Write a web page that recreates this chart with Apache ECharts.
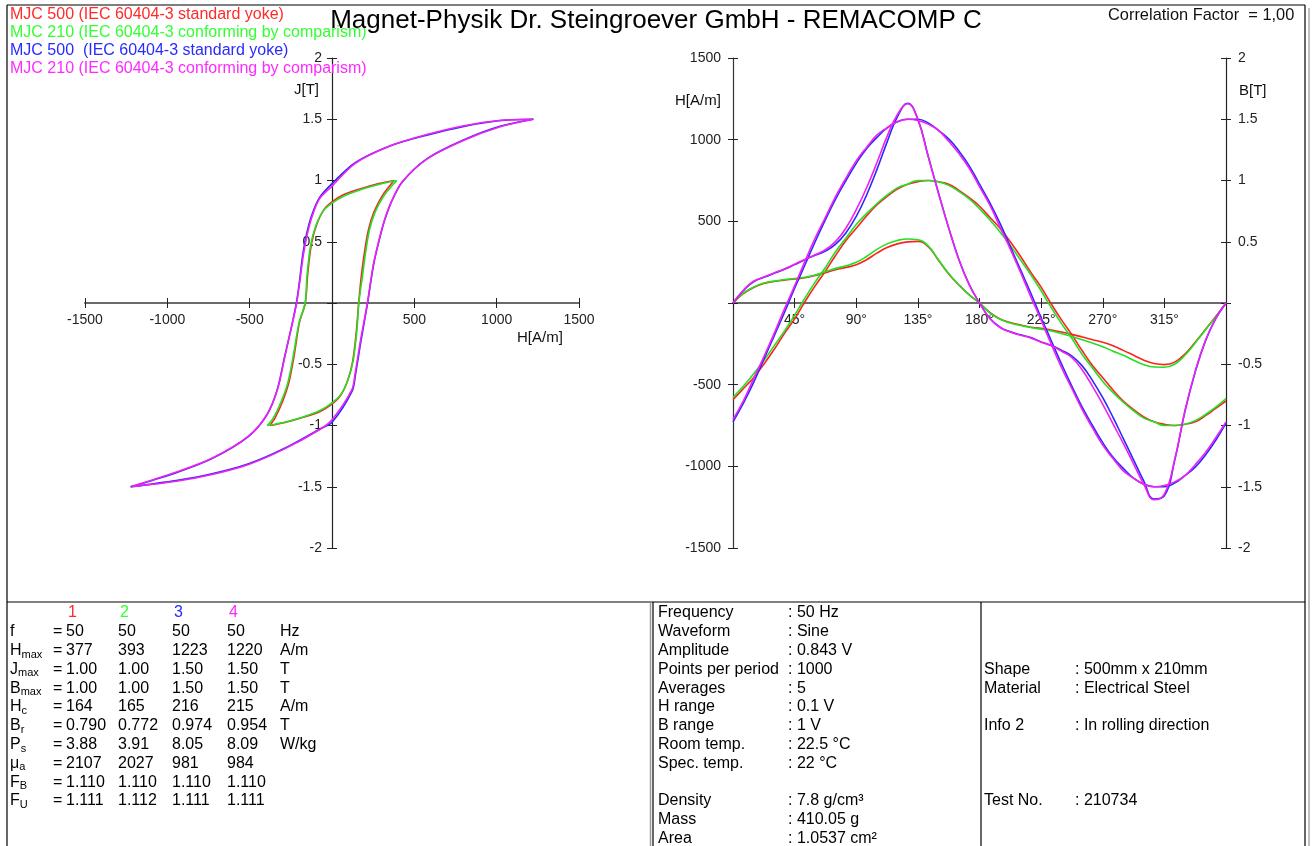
<!DOCTYPE html>
<html><head><meta charset="utf-8">
<script src="https://cdn.jsdelivr.net/npm/echarts@6/dist/echarts.min.js"></script>
<style>html,body{margin:0;padding:0;background:#fff}#c{width:1313px;height:846px}</style>
</head><body><div id="c"></div>
<script>
const FONT = '"Liberation Sans", Arial, Helvetica, sans-serif';

// ---------- series meta ----------
const seriesNames = [
  'MJC 500 (IEC 60404-3 standard yoke)',
  'MJC 210 (IEC 60404-3 conforming by comparism)',
  'MJC 500  (IEC 60404-3 standard yoke)',
  'MJC 210 (IEC 60404-3 conforming by comparism)'
];
const lineColors = ['#ff2020', '#22e022', '#2a2aff', '#f020f0'];
const textColors = ['#ff2a2a', '#33ff33', '#2a2aff', '#ff2aff'];

// ---------- hysteresis loops [H A/m, J T] ----------
const loop1Desc = [[377,1.0],[285,0.975],[180,0.935],[72,0.885],[0,0.825],[-50,0.76],[-93,0.64],[-125,0.48],[-148,0.23],[-162,0],[-198,-0.16],[-230,-0.43],[-262,-0.65],[-302,-0.81],[-345,-0.935],[-377,-1.0]];
const loop1Asc  = [[-377,-1.0],[-285,-0.975],[-178,-0.935],[-72,-0.885],[0,-0.825],[50,-0.76],[93,-0.64],[125,-0.48],[148,-0.23],[162,0],[178,0.22],[200,0.44],[222,0.60],[254,0.74],[305,0.875],[377,1.0]];
const loop2Desc = [[393,1.0],[294,0.972],[185,0.93],[76,0.875],[0,0.815],[-54,0.75],[-98,0.63],[-130,0.47],[-152,0.22],[-163,0],[-200,-0.16],[-235,-0.43],[-268,-0.65],[-310,-0.81],[-355,-0.935],[-393,-1.0]];
const loop2Asc  = [[-393,-1.0],[-294,-0.975],[-185,-0.935],[-76,-0.88],[0,-0.815],[54,-0.747],[98,-0.624],[130,-0.46],[152,-0.21],[163,0],[185,0.22],[207,0.44],[228,0.60],[261,0.74],[315,0.875],[393,1.0]];
const loop3Desc = [[1223,1.50],[1012,1.488],[794,1.44],[576,1.37],[359,1.285],[141,1.145],[0,0.974],[-76,0.86],[-122,0.72],[-155,0.56],[-178,0.39],[-198,0.17],[-216,0],[-242,-0.17],[-288,-0.44],[-333,-0.71],[-398,-0.92],[-508,-1.09],[-729,-1.27],[-946,-1.385],[-1223,-1.50]];
const loop3Asc  = [[-1223,-1.50],[-946,-1.45],[-729,-1.395],[-511,-1.315],[-294,-1.19],[-76,-1.03],[0,-0.974],[122,-0.72],[143,-0.58],[176,-0.31],[216,0],[252,0.31],[286,0.51],[318,0.67],[362,0.83],[428,0.99],[580,1.18],[798,1.33],[1015,1.44],[1223,1.50]];
const loop4Desc = [[1220,1.50],[1012,1.49],[794,1.445],[576,1.375],[359,1.285],[141,1.14],[0,0.954],[-76,0.85],[-120,0.71],[-152,0.55],[-174,0.39],[-196,0.17],[-215,0],[-240,-0.16],[-285,-0.43],[-330,-0.70],[-395,-0.91],[-505,-1.085],[-725,-1.265],[-945,-1.38],[-1220,-1.50]];
const loop4Asc  = [[-1220,-1.50],[-946,-1.455],[-729,-1.40],[-511,-1.32],[-294,-1.195],[-76,-1.035],[0,-0.954],[120,-0.71],[141,-0.57],[174,-0.30],[215,0],[250,0.305],[283,0.50],[315,0.66],[359,0.82],[424,0.985],[576,1.175],[794,1.325],[1012,1.435],[1220,1.50]];

// ---------- waveforms over one period ----------
const angles = [0,7.5,15,22.5,30,37.5,45,52.5,60,67.5,75,82.5,90,97.5,105,112.5,120,127.5,135,142.5,150,157.5,165,172.5,180,187.5,195,202.5,210,217.5,225,232.5,240,247.5,255,262.5,270,277.5,285,292.5,300,307.5,315,322.5,330,337.5,345,352.5,360];
const H1 = [0,57,95,120,132,140,147,155,168,186,204,218,234,265,305,340,362,374,377,345,262,178,110,50,0,-58,-98,-120,-135,-148,-155,-165,-178,-192,-208,-225,-240,-262,-290,-320,-350,-370,-377,-362,-312,-240,-162,-83,0];
const H2 = [0,60,97,122,134,143,150,158,172,192,212,228,249,285,328,362,383,392,387,350,265,180,110,50,0,-60,-100,-122,-137,-150,-160,-172,-188,-205,-225,-245,-268,-295,-320,-350,-378,-392,-393,-375,-320,-245,-165,-85,0];
const H3 = [0,75,130,157,182,206,235,265,292,318,360,430,530,660,815,985,1140,1223,1125,900,675,460,265,112,0,-93,-148,-176,-195,-212,-238,-260,-290,-325,-385,-475,-580,-700,-830,-960,-1090,-1200,-1180,-965,-665,-422,-232,-96,0];
const H4 = [0,78,133,159,184,208,237,267,296,326,377,459,571,704,857,1020,1153,1220,1122,898,673,459,265,112,0,-95,-150,-178,-197,-214,-240,-262,-295,-335,-410,-510,-620,-740,-860,-985,-1110,-1205,-1170,-960,-660,-420,-230,-95,0];
const B1 = [-0.79,-0.70,-0.61,-0.50,-0.38,-0.25,-0.13,0.01,0.14,0.26,0.39,0.51,0.61,0.71,0.80,0.87,0.93,0.97,0.99,1.00,0.99,0.97,0.92,0.86,0.79,0.70,0.61,0.50,0.38,0.25,0.13,-0.01,-0.14,-0.26,-0.39,-0.51,-0.61,-0.71,-0.80,-0.87,-0.93,-0.97,-0.99,-1.00,-0.99,-0.97,-0.92,-0.86,-0.80];
const B2 = [-0.77,-0.68,-0.58,-0.47,-0.35,-0.23,-0.10,0.04,0.17,0.29,0.42,0.53,0.64,0.73,0.81,0.88,0.94,0.97,1.00,1.00,0.99,0.96,0.91,0.85,0.77,0.68,0.58,0.47,0.35,0.23,0.10,-0.04,-0.17,-0.29,-0.42,-0.53,-0.64,-0.73,-0.81,-0.88,-0.94,-0.97,-1.00,-1.00,-0.99,-0.96,-0.91,-0.85,-0.78];
const B3 = [-0.97,-0.82,-0.65,-0.46,-0.27,-0.08,0.12,0.31,0.50,0.68,0.85,1.00,1.14,1.26,1.35,1.43,1.48,1.50,1.50,1.47,1.41,1.34,1.24,1.12,0.97,0.82,0.65,0.46,0.27,0.08,-0.12,-0.31,-0.50,-0.68,-0.85,-1.00,-1.14,-1.26,-1.35,-1.43,-1.48,-1.50,-1.50,-1.47,-1.41,-1.34,-1.24,-1.12,-0.98];
const B4 = [-0.95,-0.80,-0.62,-0.44,-0.25,-0.05,0.14,0.34,0.53,0.70,0.87,1.02,1.16,1.27,1.37,1.43,1.48,1.50,1.49,1.46,1.41,1.32,1.22,1.10,0.95,0.80,0.62,0.44,0.25,0.05,-0.14,-0.34,-0.53,-0.70,-0.87,-1.02,-1.16,-1.27,-1.37,-1.43,-1.48,-1.50,-1.49,-1.46,-1.41,-1.32,-1.22,-1.10,-0.97];

// ---------- tick settings ----------
const hRange = [-1500, 1500, 500];
const jRange = [-2, 2, 0.5];
const angRange = [0, 360, 45];

// ---------- table texts ----------
const colHeads = ['1','2','3','4'];
const rowLabels = [['f',''],['H','max'],['J','max'],['B','max'],['H','c'],['B','r'],['P','s'],['\u03bc','a'],['F','B'],['F','U']];
const rowValues = [
  ['50','50','50','50','Hz'],
  ['377','393','1223','1220','A/m'],
  ['1.00','1.00','1.50','1.50','T'],
  ['1.00','1.00','1.50','1.50','T'],
  ['164','165','216','215','A/m'],
  ['0.790','0.772','0.974','0.954','T'],
  ['3.88','3.91','8.05','8.09','W/kg'],
  ['2107','2027','981','984',''],
  ['1.110','1.110','1.110','1.110',''],
  ['1.111','1.112','1.111','1.111','']
];
const midLabels = ['Frequency','Waveform','Amplitude','Points per period','Averages','H range','B range','Room temp.','Spec. temp.','','Density','Mass','Area'];
const midValues = [': 50 Hz',': Sine',': 0.843 V',': 1000',': 5',': 0.1 V',': 1 V',': 22.5 \u00b0C',': 22 \u00b0C','',': 7.8 g/cm\u00b3',': 410.05 g',': 1.0537 cm\u00b2'];
const rightLabels = [['Shape',': 500mm x 210mm',3],['Material',': Electrical Steel',4],['Info 2',': In rolling direction',6],['Test No.',': 210734',10]];

// ================= build =================
const chart = echarts.init(document.getElementById('c'), null, {width:1313, height:846});
const G0 = {left:85, top:58, width:494, height:490};
const G1 = {left:733, top:58, width:493, height:490};

function txt(x, y, s, size, color, align, extra) {
  return Object.assign({type:'text', x:x, y:y, silent:true, z:100,
    style:{text:s, font:size+'px '+FONT, fill:color||'#000', textAlign:align||'left', align:align||'left', textVerticalAlign:'middle', verticalAlign:'middle'}}, extra||{});
}
function ln(x1,y1,x2,y2,color,w) {
  return {type:'line', silent:true, z:100, shape:{x1:x1,y1:y1,x2:x2,y2:y2}, style:{stroke:color, lineWidth:w}};
}
const meas = document.createElement('canvas').getContext('2d');
function tw(s, size) { meas.font = size+'px '+FONT; return meas.measureText(s).width; }

const graphics = [];
// frame
graphics.push(ln(7,5,1305,5,'#000',1.2));
graphics.push(ln(7,5,7,846,'#000',1.2));
graphics.push(ln(1305,5,1305,846,'#000',1.2));
graphics.push(ln(1309,8,1309,846,'#aaa',1.5));
graphics.push(ln(7,602,1305,602,'#000',1.2));
graphics.push(ln(650.5,602,650.5,846,'#999',1.5));
graphics.push(ln(653,602,653,846,'#000',1.2));
graphics.push(ln(981,602,981,846,'#000',1.2));
// header texts
seriesNames.forEach((n,i)=>graphics.push(txt(10, 15+i*17.7, n, 16, textColors[i])));
graphics.push(txt(656, 21, 'Magnet-Physik Dr. Steingroever GmbH - REMACOMP C', 26, '#000', 'center'));
graphics.push(txt(1108, 15, 'Correlation Factor  = 1,00', 16.4, '#111'));
// axis names
graphics.push(txt(294, 90, 'J[T]', 15, '#111'));
graphics.push(txt(517, 338, 'H[A/m]', 15, '#111'));
graphics.push(txt(675, 101, 'H[A/m]', 15, '#111'));
graphics.push(txt(1239, 91, 'B[T]', 15, '#111'));
// table left
const rowY0 = 613, rowDy = 18.8, FS = 16;
const colX = [66, 118, 172, 227, 280];
colHeads.forEach((h,i)=>graphics.push(txt(colX[i]+2, rowY0, h, FS, textColors[i])));
rowLabels.forEach((lab,r)=>{
  const y = rowY0 + (r+1)*rowDy;
  graphics.push(txt(10, y, lab[0], FS, '#000'));
  if (lab[1]) graphics.push(txt(10 + tw(lab[0], FS), y+4, lab[1], 11, '#000'));
  graphics.push(txt(53, y, '=', FS, '#000'));
  rowValues[r].forEach((v,c)=>{ if (v) graphics.push(txt(colX[c], y, v, FS, '#000')); });
});
// table middle
midLabels.forEach((l,r)=>{
  const y = rowY0 + r*rowDy;
  if (l) graphics.push(txt(658, y, l, FS, '#000'));
  if (midValues[r]) graphics.push(txt(788, y, midValues[r], FS, '#000'));
});
// table right
rightLabels.forEach(item=>{
  const y = rowY0 + item[2]*rowDy;
  graphics.push(txt(984, y, item[0], FS, '#000'));
  graphics.push(txt(1075, y, item[1], FS, '#000'));
});

// ---------- axes ----------
const labelStyle = {color:'#222', fontSize:14, fontFamily:FONT};
const hideZero = v => (v === 0 ? '' : String(v));
function mainAxis(grid, range, pos, offset, fmt, lineColor, lineW, margin) {
  return {gridIndex:grid, type:'value', position:pos, offset:offset, min:range[0], max:range[1], interval:range[2],
    axisLine:{show:true, onZero:false, lineStyle:{color:lineColor, width:lineW}},
    axisTick:{show:true, length:5, lineStyle:{color:'#222', width:1}},
    axisLabel:Object.assign({formatter:fmt, margin:margin}, labelStyle),
    splitLine:{show:false}};
}
function helperAxis(grid, range, pos, offset) {
  return {gridIndex:grid, type:'value', position:pos, offset:offset, min:range[0], max:range[1], interval:range[2],
    axisLine:{show:false, onZero:false},
    axisTick:{show:true, inside:true, length:5, lineStyle:{color:'#222', width:1}},
    axisLabel:{show:false}, splitLine:{show:false}};
}
const xMid0 = -G0.height/2, yMid0 = -G0.width/2, xMid1 = -G1.height/2;
const xAxes = [
  mainAxis(0, hRange, 'bottom', xMid0, hideZero, '#6a6a6a', 2, 10),
  mainAxis(1, angRange, 'bottom', xMid1, v => (v === 0 || v === 360) ? '' : v + '\u00b0', '#6a6a6a', 2, 10),
  helperAxis(2, hRange, 'bottom', xMid0),
  helperAxis(3, angRange, 'bottom', xMid1)
];
const yAxes = [
  mainAxis(0, jRange, 'left', yMid0, hideZero, '#222', 1.2, 10),
  mainAxis(1, hRange, 'left', 0, hideZero, '#333', 1.2, 12),
  mainAxis(1, jRange, 'right', 0, hideZero, '#222', 1.2, 12),
  helperAxis(2, jRange, 'left', yMid0),
  helperAxis(3, hRange, 'left', 0),
  helperAxis(3, jRange, 'right', 0)
];

// ---------- series ----------
const loops = [[loop1Desc, loop1Asc],[loop2Desc, loop2Asc],[loop3Desc, loop3Asc],[loop4Desc, loop4Asc]];
const waveH = [H1, H2, H3, H4];
const waveB = [B1, B2, B3, B4];
const series = [];
function lineSeries(name, data, xi, yi, color, z, smooth) {
  return {name:name, type:'line', xAxisIndex:xi, yAxisIndex:yi, data:data, showSymbol:false, symbol:'none',
    smooth:smooth, lineStyle:{color:color, width:1.6}, itemStyle:{color:color}, z:z, silent:true, animation:false};
}
loops.forEach((pair,i)=>{
  pair.forEach(branch=>series.push(lineSeries(seriesNames[i], branch, 0, 0, lineColors[i], 2+i, 0.3)));
});
waveH.forEach((arr,i)=>series.push(lineSeries(seriesNames[i], angles.map((a,k)=>[a, arr[k]]), 1, 1, lineColors[i], 2+i, 0.45)));
waveB.forEach((arr,i)=>series.push(lineSeries(seriesNames[i], angles.map((a,k)=>[a, arr[k]]), 1, 2, lineColors[i], 2+i, 0.45)));

chart.setOption({
  animation:false,
  backgroundColor:'#fff',
  grid:[
    Object.assign({containLabel:false}, G0),
    Object.assign({containLabel:false}, G1),
    Object.assign({containLabel:false}, G0),
    Object.assign({containLabel:false}, G1)
  ],
  xAxis:xAxes,
  yAxis:yAxes,
  series:series,
  graphic:graphics
});
</script></body></html>
